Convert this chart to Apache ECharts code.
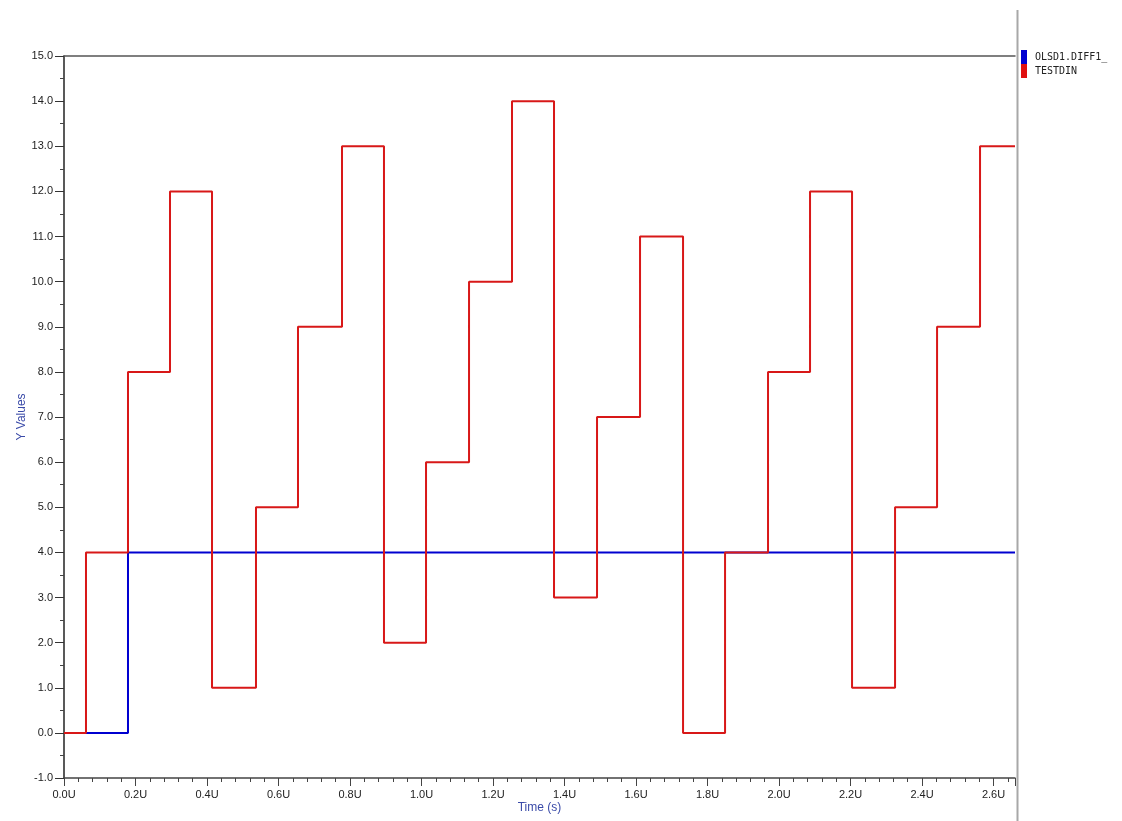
<!DOCTYPE html>
<html>
<head>
<meta charset="utf-8">
<script src="https://cdn.jsdelivr.net/npm/echarts@6/dist/echarts.min.js"></script>
<style>html,body{margin:0;padding:0;background:#fff}#c{width:1122px;height:821px}</style>
</head>
<body>
<div id="c"></div>
<script>
// TESTDIN: times (µs) where value changes, and the value after each change
const redTimes = [0.0615, 0.179, 0.2965, 0.414, 0.537, 0.6545, 0.7776, 0.895, 1.0126, 1.1329, 1.2531, 1.3706, 1.4909, 1.6112, 1.7315, 1.849, 1.9692, 2.0867, 2.2042, 2.3245, 2.442, 2.5622];
const redValues = [4, 8, 12, 1, 5, 9, 13, 2, 6, 10, 14, 3, 7, 11, 0, 4, 8, 12, 1, 5, 9, 13];
const redStart = 0;
// OLSD1.DIFF1_
const blueTimes = [0.179];
const blueValues = [4];
const blueStart = 0;
const xMin = 0, xMax = 2.66;
const yMin = -1, yMax = 15;
const seriesNames = ['OLSD1.DIFF1_', 'TESTDIN'];

function buildSteps(start, times, values) {
  const d = [[xMin, start]];
  times.forEach((t, i) => d.push([t, values[i]]));
  d.push([xMax, values[values.length - 1]]);
  return d;
}

const chart = echarts.init(document.getElementById('c'), null, {renderer: 'canvas'});
const labelFont = {fontFamily: 'Liberation Sans', fontSize: 11, color: '#222'};
chart.setOption({
  animation: false,
  backgroundColor: '#fff',
  grid: {left: 64, top: 56, right: 107, bottom: 43},
  legend: {
    orient: 'vertical', left: 1021, top: 50, itemGap: 0, padding: 0,
    itemWidth: 6, itemHeight: 14, icon: 'rect',
    textStyle: {fontFamily: 'DejaVu Sans Mono', fontSize: 10, color: '#222', padding: [0, 0, 0, 3]},
    data: seriesNames
  },
  xAxis: [{
    type: 'value', min: xMin, max: xMax, interval: 0.2,
    name: 'Time (s)', nameLocation: 'middle', nameGap: 24, nameMoveOverlap: false,
    nameTextStyle: {fontFamily: 'Liberation Sans', fontSize: 12, color: '#3a4aa8'},
    axisLine: {onZero: false, lineStyle: {color: '#444', width: 1.5}},
    axisTick: {length: 8, lineStyle: {color: '#444'}},
    minorTick: {show: true, splitNumber: 5, length: 4, lineStyle: {color: '#444'}},
    splitLine: {show: false},
    axisLabel: Object.assign({formatter: v => v.toFixed(1) + 'U', showMaxLabel: false, margin: 11}, labelFont)
  }, {
    type: 'value', position: 'top', min: xMin, max: xMax,
    axisLine: {show: true, onZero: false, lineStyle: {color: '#555', width: 1.5}},
    axisTick: {show: false}, axisLabel: {show: false}, splitLine: {show: false}
  }],
  yAxis: {
    type: 'value', min: yMin, max: yMax, interval: 1,
    name: 'Y Values', nameLocation: 'middle', nameGap: 36, nameMoveOverlap: false,
    nameTextStyle: {fontFamily: 'Liberation Sans', fontSize: 12, color: '#3a4aa8'},
    axisLine: {show: true, onZero: false, lineStyle: {color: '#222', width: 1.5}},
    axisTick: {show: true, length: 9, lineStyle: {color: '#333'}},
    minorTick: {show: true, splitNumber: 2, length: 4, lineStyle: {color: '#444'}},
    splitLine: {show: false},
    axisLabel: Object.assign({formatter: v => v.toFixed(1), margin: 11}, labelFont)
  },
  series: [{
    name: seriesNames[0], type: 'line', step: 'end', showSymbol: false,
    data: buildSteps(blueStart, blueTimes, blueValues),
    itemStyle: {color: '#0000d0'}, lineStyle: {color: '#0000d0', width: 2}, z: 2
  }, {
    name: seriesNames[1], type: 'line', step: 'end', showSymbol: false,
    data: buildSteps(redStart, redTimes, redValues),
    itemStyle: {color: '#e01010'}, lineStyle: {color: '#d81818', width: 2}, z: 3
  }],
  graphic: [{
    type: 'line', shape: {x1: 1017.5, y1: 10, x2: 1017.5, y2: 821},
    style: {stroke: '#a8a8a8', lineWidth: 2}, silent: true
  }]
});
</script>
</body>
</html>
